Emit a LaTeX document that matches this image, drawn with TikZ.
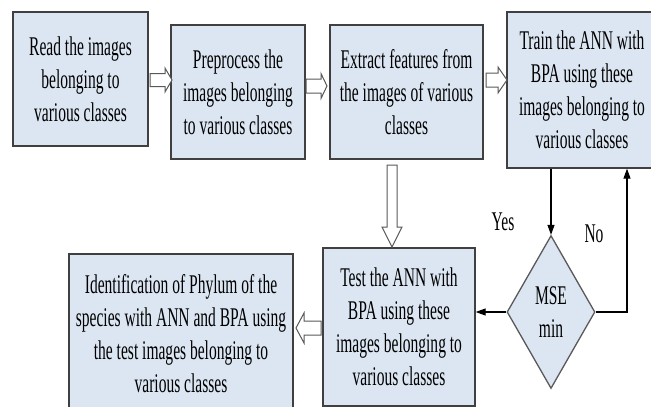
\documentclass[tikz,border=0pt]{standalone}
\usepackage{fontspec}
\setmainfont{Liberation Serif}[FakeStretch=0.575]
\usetikzlibrary{calc,shapes.geometric,arrows.meta}
\definecolor{boxfill}{HTML}{DCE6F2}
\definecolor{boxline}{HTML}{404040}
\definecolor{arrline}{HTML}{595959}
\newcommand\blockarrow[5]{%
  \coordinate (tmpB) at ($(#2)!#5!(#1)$);
  \draw[barrow] ($(#1)!#3!90:(#2)$) -- ($(tmpB)!#3!90:(#2)$) -- ($(tmpB)!#4!90:(#2)$) -- (#2)
    -- ($(tmpB)!#4!-90:(#2)$) -- ($(tmpB)!#3!-90:(#2)$) -- ($(#1)!#3!-90:(#2)$) -- cycle;
}
\begin{document}
\begin{tikzpicture}[x=1pt,y=-1pt,
  txt/.style={align=center, inner sep=0pt, font=\fontsize{27}{33}\selectfont},
  box/.style={txt, draw=boxline, line width=1.3pt, fill=boxfill},
  dec/.style={diamond, draw=arrline, line width=1.3pt, fill=boxfill, inner sep=0pt},
  barrow/.style={draw=arrline, fill=white, line width=1pt, line join=miter},
  flow/.style={draw=black, line width=1.1pt, -{Triangle[length=10pt,width=7pt]}}]
\useasboundingbox (0,0) rectangle (651,407);
\clip (0,0) rectangle (651,407);
\node[box, minimum width=135, minimum height=134] (b1) at (80.5,79) {Read the images\\belonging to\\various classes};
\node[box, minimum width=134, minimum height=134] (b2) at (238,92) {Preprocess the\\images belonging\\to various classes};
\node[box, minimum width=153, minimum height=134] (b3) at (406.5,92) {Extract features from\\the images of various\\classes};
\node[box, minimum width=150, minimum height=156] (b4) at (582,90) {Train the ANN with\\BPA using these\\images belonging to\\various classes};
\node[box, minimum width=152, minimum height=158] (b5) at (399,327) {Test the ANN with\\BPA using these\\images belonging to\\various classes};
\node[box, minimum width=224, minimum height=160] (b6) at (181,334) {Identification of Phylum of the\\species with ANN and BPA using\\the test images belonging to\\various classes};
\node[dec, minimum width=88, minimum height=153] (dia) at (551,312) {};
\node[txt] (dialbl) at (dia.center) {MSE\\min};
\node[txt] (yes) at (503,222) {Yes};
\node[txt] (no) at (594,234) {No};
% block arrows
\coordinate (a1s) at (150,80); \coordinate (a1e) at (172,80);
\coordinate (a2s) at (306,86); \coordinate (a2e) at (327,86);
\coordinate (a3s) at (486,80); \coordinate (a3e) at (507,80);
\coordinate (a4s) at (392,165); \coordinate (a4e) at (392,247);
\coordinate (a5s) at (321,328); \coordinate (a5e) at (296,328);
\blockarrow{a1s}{a1e}{6.5pt}{12pt}{7pt}
\blockarrow{a2s}{a2e}{7pt}{12.5pt}{6pt}
\blockarrow{a3s}{a3e}{7pt}{13pt}{9pt}
\blockarrow{a4s}{a4e}{5pt}{10pt}{20pt}
\blockarrow{a5s}{a5e}{7pt}{15pt}{8pt}
% thin connectors
\coordinate (nocorner) at (627,312);
\draw[flow] (dia.north |- b4.south) -- (dia.north);
\draw[flow] (dia.east) -- (nocorner) -- (nocorner |- b4.south);
\draw[flow] (dia.west) -- (dia.west -| b5.east);
\end{tikzpicture}
\end{document}
